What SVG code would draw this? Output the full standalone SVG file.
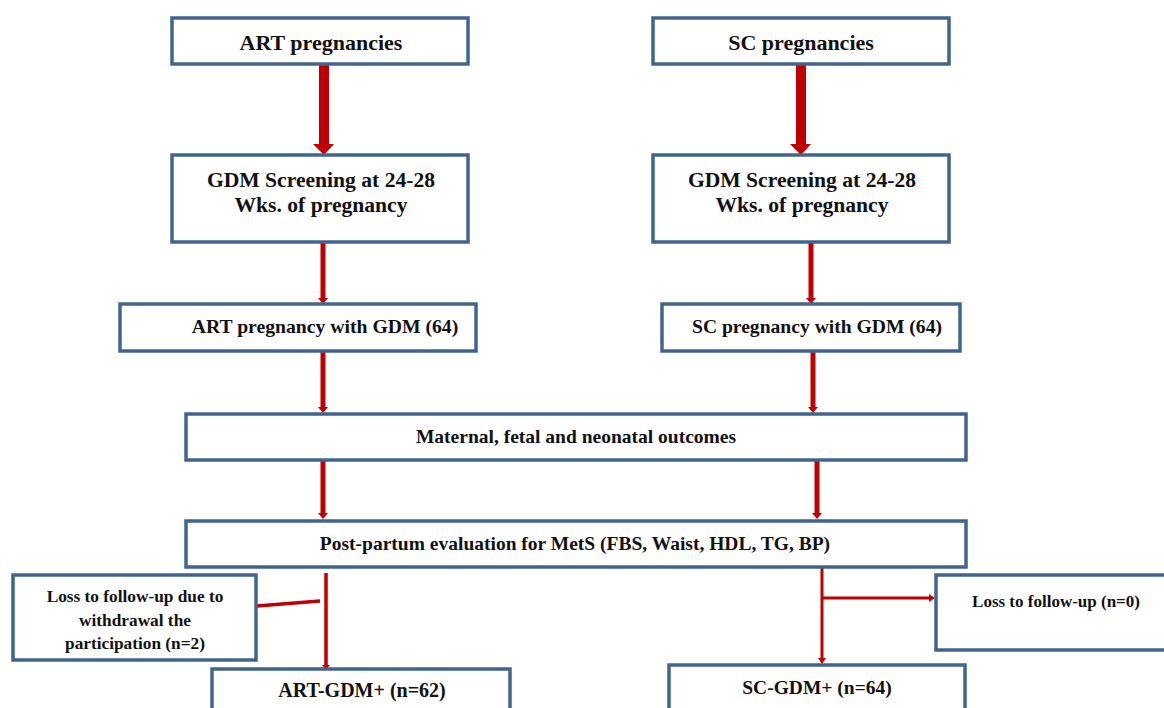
<svg xmlns="http://www.w3.org/2000/svg" width="1164" height="708" viewBox="0 0 1164 708">
<style>
.box{fill:#fff;stroke:#41648f;stroke-width:3.5}
.t{font-family:"Liberation Serif","Times New Roman",serif;font-weight:bold;fill:#111;text-anchor:middle}
.ln{stroke:#c00000;fill:none}
.ah{fill:#c00000}
</style>
<rect width="1164" height="708" fill="#fff"/>
<g id="connectors">
<polygon class="ah" points="319,64 329,64 329,144 334,144 324,155 313,144 319,144"/>
<polygon class="ah" points="796,64 806,64 806,144 811,144 801,155 790,144 796,144"/>
<line class="ln" x1="323" y1="242" x2="323" y2="299" stroke-width="5"/>
<polygon class="ah" points="318,298 328,298 323,304"/>
<line class="ln" x1="811" y1="242" x2="811" y2="299" stroke-width="5"/>
<polygon class="ah" points="806,298 816,298 811,304"/>
<line class="ln" x1="323" y1="351" x2="323" y2="408" stroke-width="5"/>
<polygon class="ah" points="318,407 328,407 323,413"/>
<line class="ln" x1="813" y1="351" x2="813" y2="408" stroke-width="5"/>
<polygon class="ah" points="808,407 818,407 813,413"/>
<line class="ln" x1="323" y1="460" x2="323" y2="514" stroke-width="5"/>
<polygon class="ah" points="318,513 328,513 323,519"/>
<line class="ln" x1="817" y1="460" x2="817" y2="514" stroke-width="5"/>
<polygon class="ah" points="812,513 822,513 817,519"/>
<line class="ln" x1="326" y1="573" x2="326" y2="666" stroke-width="3.5"/>
<polygon class="ah" points="322,665 330,665 326,670"/>
<line class="ln" x1="257" y1="606" x2="320" y2="601" stroke-width="3.5"/>
<line class="ln" x1="822" y1="567" x2="822" y2="659" stroke-width="3"/>
<polygon class="ah" points="818,658 826,658 822,664"/>
<line class="ln" x1="822" y1="598" x2="930" y2="598" stroke-width="3"/>
<polygon class="ah" points="929,594 929,602 935,598"/>
</g>
<g id="n1"><rect class="box" x="172" y="18" width="296" height="46"/><text class="t" x="321" y="50" font-size="22">ART pregnancies</text></g>
<g id="n2"><rect class="box" x="653" y="18" width="296" height="46"/><text class="t" x="801" y="50" font-size="22">SC pregnancies</text></g>
<g id="n3"><rect class="box" x="172" y="155" width="296" height="87"/><text class="t" x="321" y="187" font-size="21.6">GDM Screening at 24-28</text><text class="t" x="321" y="212" font-size="21.6">Wks. of pregnancy</text></g>
<g id="n4"><rect class="box" x="653" y="155" width="296" height="87"/><text class="t" x="802" y="187" font-size="21.6">GDM Screening at 24-28</text><text class="t" x="802" y="212" font-size="21.6">Wks. of pregnancy</text></g>
<g id="n5"><rect class="box" x="120" y="304" width="356" height="47"/><text class="t" x="325" y="333" font-size="19.7">ART pregnancy with GDM (64)</text></g>
<g id="n6"><rect class="box" x="662" y="304" width="298" height="47"/><text class="t" x="817" y="333" font-size="19.6">SC pregnancy with GDM (64)</text></g>
<g id="n7"><rect class="box" x="186" y="414" width="780" height="46"/><text class="t" x="576" y="443" font-size="19.5">Maternal, fetal and neonatal outcomes</text></g>
<g id="n8"><rect class="box" x="186" y="521" width="780" height="46"/><text class="t" x="575" y="550" font-size="19.5">Post-partum evaluation for MetS (FBS, Waist, HDL, TG, BP)</text></g>
<g id="n9"><rect class="box" x="13" y="575" width="243" height="85"/><text class="t" x="135" y="602" font-size="17.3">Loss to follow-up due to</text><text class="t" x="135" y="626" font-size="17.3">withdrawal the</text><text class="t" x="135" y="649" font-size="17.3">participation (n=2)</text></g>
<g id="n10"><rect class="box" x="936" y="575" width="240" height="75"/><text class="t" x="1056" y="607" font-size="17">Loss to follow-up (n=0)</text></g>
<g id="n11"><rect class="box" x="212" y="669" width="298" height="50"/><text class="t" x="362" y="697" font-size="20">ART-GDM+ (n=62)</text></g>
<g id="n12"><rect class="box" x="669" y="665" width="296" height="55"/><text class="t" x="817" y="694" font-size="19.5">SC-GDM+ (n=64)</text></g>
</svg>
